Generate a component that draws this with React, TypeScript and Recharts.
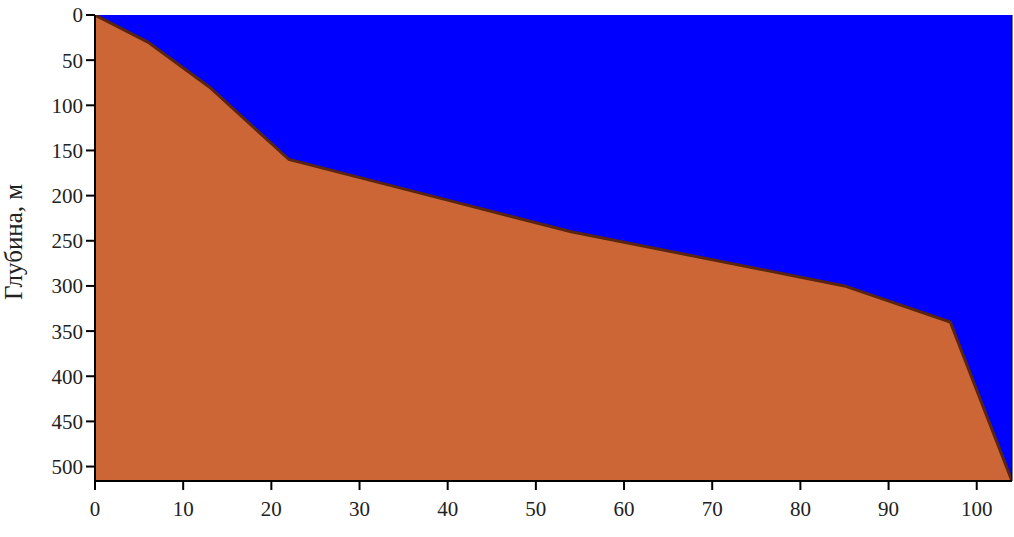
import React from 'react';
import {
  AreaChart,
  Area,
  XAxis,
  YAxis,
  CartesianGrid,
  Label,
} from 'recharts';

// distance along the profile and depth of the bottom
const distance = [0, 6, 13, 22, 40, 54, 85, 97, 104];
const depth = [0, 30, 80, 160, 205, 240, 300, 340, 516];

const xTicks = [0, 10, 20, 30, 40, 50, 60, 70, 80, 90, 100];
const yTicks = [0, 50, 100, 150, 200, 250, 300, 350, 400, 450, 500];

const data = distance.map((x, i) => ({ x, depth: depth[i] }));

const font = '"Liberation Serif", "DejaVu Serif", serif';
const tickStyle = { fill: '#222', fontSize: 21, fontFamily: font };

function YLabel({ viewBox }: { viewBox?: { x: number; y: number; width: number; height: number } }) {
  if (!viewBox) return null;
  const cx = 13;
  const cy = viewBox.y + viewBox.height / 2 - 6;
  return (
    <text
      x={cx}
      y={cy}
      transform={`rotate(-90, ${cx}, ${cy})`}
      textAnchor="middle"
      dominantBaseline="central"
      fill="#222"
      fontSize={25}
      fontFamily={font}
    >
      Глубина, м
    </text>
  );
}

export default function App() {
  return (
    <div style={{ position: 'absolute', left: 0, top: 0, background: '#fff' }}>
      <AreaChart
        width={1014}
        height={537}
        data={data}
        margin={{ top: 15, right: 1, bottom: 0, left: 0 }}
      >
        <CartesianGrid fill="#0000ff" horizontal={false} vertical={false} stroke="none" />
        <XAxis
          dataKey="x"
          type="number"
          domain={[0, 104]}
          ticks={xTicks}
          tick={tickStyle}
          tickSize={9}
          tickMargin={11}
          height={56}
          axisLine={{ stroke: '#000', strokeWidth: 2 }}
          tickLine={{ stroke: '#000', strokeWidth: 2 }}
          allowDataOverflow
        />
        <XAxis
          xAxisId="top"
          orientation="top"
          dataKey="x"
          type="number"
          domain={[0, 104]}
          tick={false}
          tickLine={false}
          height={0}
          axisLine={{ stroke: '#000', strokeWidth: 2 }}
        />
        <YAxis
          type="number"
          reversed
          domain={[0, 516]}
          ticks={yTicks}
          tick={tickStyle}
          tickSize={9}
          tickMargin={3}
          width={95}
          axisLine={{ stroke: '#000', strokeWidth: 2 }}
          tickLine={{ stroke: '#000', strokeWidth: 2 }}
          allowDataOverflow
        >
          <Label content={<YLabel />} />
        </YAxis>
        <YAxis
          yAxisId="right"
          orientation="right"
          type="number"
          domain={[0, 516]}
          tick={false}
          tickLine={false}
          width={1}
          axisLine={{ stroke: '#000', strokeWidth: 1 }}
        />
        <Area
          type="linear"
          dataKey="depth"
          baseValue="dataMax"
          stroke="#5a2510"
          strokeWidth={3}
          fill="#cd6636"
          fillOpacity={1}
          dot={false}
          activeDot={false}
          isAnimationActive={false}
        />
      </AreaChart>
    </div>
  );
}
